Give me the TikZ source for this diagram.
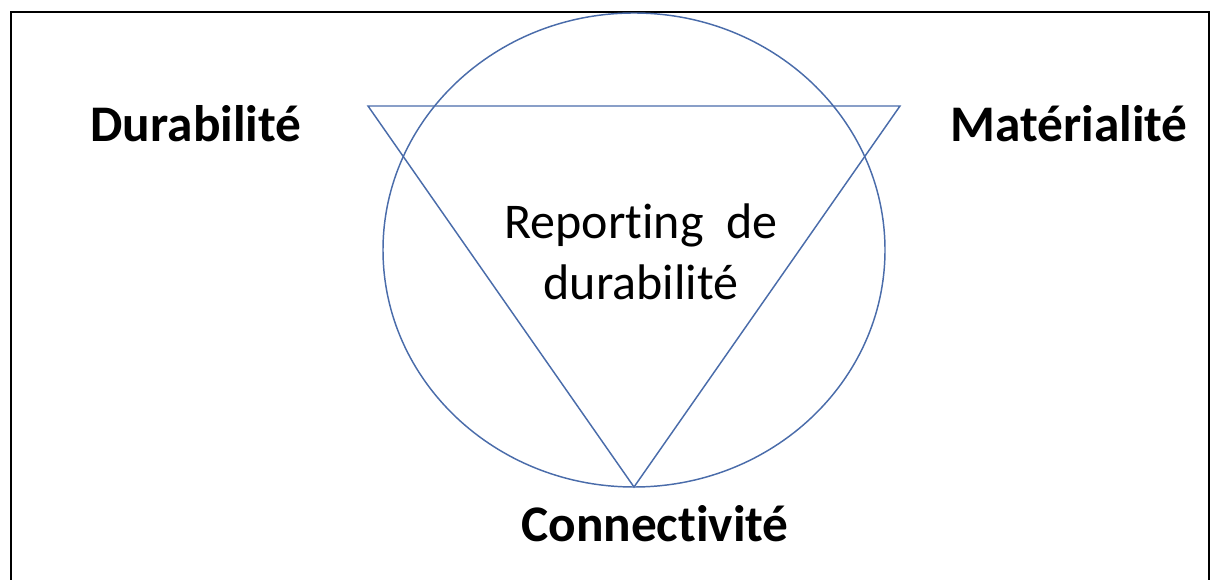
\documentclass[tikz,border=0pt]{standalone}
\usepackage{fontspec}
\setmainfont{Carlito}[Ligatures={NoCommon,NoContextual}]
\usetikzlibrary{calc}
\definecolor{ringblue}{RGB}{74,108,170}

\begin{document}
\begin{tikzpicture}[x=0.75pt, y=-0.75pt,
  frame/.style={line width=2.2pt, black},
  ring/.style={line width=1.1pt, ringblue},
  corner/.style={font=\fontsize{38.5}{46}\selectfont\bfseries, anchor=base},
  centre/.style={font=\fontsize{37.5}{45.75}\selectfont, align=center}]
\useasboundingbox (0,0) rectangle (1211,580);
\coordinate (origin) at (634,250);
% Draw frame
\draw[frame] (11,584) -- (11,12) -- (1209,12) -- (1209,584);
% Draw circle
\draw[ring] (origin) ellipse [x radius=251, y radius=237];
% Draw triangle
\coordinate (dur) at (368,106);
\coordinate (mat) at (900,106);
\coordinate (con) at (634,487);
\draw[ring] (dur) -- (mat) -- (con) -- cycle;
% Labels
\node[corner] (durabilite) at (196,142) {Durabilité};
\node[corner] (materialite) at (1069,142) {Matérialité};
\node[corner] (connectivite) at (655,542) {Connectivité};
\node[centre] (reporting) at (641,252) {Reporting\ \ de\\durabilité};
\end{tikzpicture}
\end{document}
